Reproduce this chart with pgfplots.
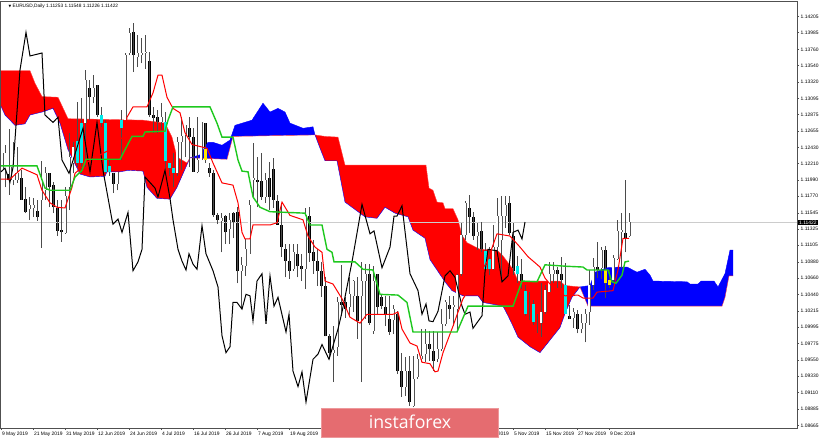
\documentclass[border=0pt]{standalone}
\usepackage{fontspec}
\setmainfont{Liberation Sans}
\newfontfamily\wmfont{Open Sans}
\newfontfamily\symfont{DejaVu Sans}
\usepackage{pgfplots}
\usepackage{pgfplotstable}
\pgfplotsset{compat=1.18}
\usepgfplotslibrary{fillbetween}
\pgfplotsset{layers/ichimoku/.define layer set={axis background,axis grid,under cloud,pre main,main,axis ticks,axis lines,axis tick labels,axis descriptions,axis foreground}{}}

\definecolor{wick}{RGB}{75,75,75}
\definecolor{bullline}{RGB}{85,85,85}
\definecolor{kijun}{RGB}{30,200,30}
\definecolor{barcyan}{RGB}{0,235,235}
\definecolor{baryellow}{RGB}{255,232,0}
\definecolor{frame}{RGB}{80,80,80}
\definecolor{wmark}{RGB}{229,108,112}

% candles: bar, high, low, body top, body bottom
\pgfplotstableread{
x hi lo top bot
1 1.1247 1.1189 1.1235 1.1212
3 1.1250 1.1192 1.1216 1.1199
4 1.1244 1.1195 1.1208 1.1199
7 1.1176 1.1145 1.1165 1.1159
8 1.1174 1.1149 1.1165 1.1161
10 1.1224 1.1107 1.1199 1.1172
11 1.1216 1.1172 1.1208 1.1185
16 1.1189 1.1126 1.1177 1.1127
17 1.1262 1.1158 1.1230 1.1189
18 1.1250 1.1208 1.1244 1.1222
21 1.1348 1.1216 1.1334 1.1276
23 1.1341 1.1303 1.1324 1.1311
29 1.1210 1.1185 1.1210 1.1193
31 1.1371 1.1280 1.1368 1.1280
32 1.1405 1.1368 1.1398 1.1371
34 1.1395 1.1352 1.1371 1.1365
35 1.1392 1.1357 1.1371 1.1368
36 1.1395 1.1350 1.1372 1.1371
40 1.1303 1.1267 1.1284 1.1277
44 1.1257 1.1205 1.1250 1.1208
45 1.1284 1.1212 1.1258 1.1250
46 1.1273 1.1230 1.1273 1.1260
49 1.1284 1.1208 1.1226 1.1210
50 1.1277 1.1226 1.1277 1.1226
55 1.1154 1.1101 1.1148 1.1144
57 1.1154 1.1112 1.1145 1.1133
60 1.1094 1.1024 1.1084 1.1075
61 1.1119 1.1069 1.1105 1.1082
62 1.1172 1.1099 1.1165 1.1099
63 1.1249 1.1176 1.1201 1.1199
66 1.1208 1.1168 1.1199 1.1176
73 1.1112 1.1076 1.1101 1.1078
76 1.1161 1.1051 1.1151 1.1078
83 1.1001 1.0925 1.0969 1.0965
84 1.1040 1.0961 1.1033 1.0973
87 1.1067 1.1013 1.1044 1.1027
88 1.1063 1.1020 1.1062 1.1042
90 1.1088 1.0925 1.1062 1.1042
91 1.1085 1.1011 1.1072 1.1062
93 1.1082 1.0990 1.1062 1.0994
98 1.1030 1.0990 1.1024 1.1009
101 1.0959 1.0906 1.0940 1.0919
103 1.0961 1.0891 1.0929 1.0893
104 1.0963 1.0929 1.0956 1.0932
105 1.0997 1.0952 1.0961 1.0956
106 1.0997 1.0952 1.0977 1.0963
109 1.0993 1.0952 1.0970 1.0956
110 1.1024 1.0967 1.1004 1.0970
111 1.1037 1.1001 1.1033 1.1004
113 1.1042 1.1001 1.1030 1.1027
114 1.1072 1.0993 1.1070 1.1024
115 1.1141 1.1069 1.1124 1.1072
116 1.1170 1.1118 1.1168 1.1124
119 1.1141 1.1104 1.1128 1.1123
123 1.1138 1.1077 1.1108 1.1078
124 1.1175 1.1097 1.1150 1.1108
125 1.1177 1.1062 1.1150 1.1118
126 1.1177 1.1134 1.1165 1.1150
135 1.1059 1.0986 1.1020 1.1005
136 1.1056 1.1018 1.1050 1.1020
137 1.1088 1.1047 1.1072 1.1047
138 1.1088 1.1059 1.1077 1.1072
143 1.1025 1.0999 1.1020 1.1012
145 1.1018 1.0991 1.1005 1.0997
146 1.1024 1.0979 1.1017 1.1005
147 1.1077 1.1003 1.1056 1.1020
148 1.1093 1.1050 1.1081 1.1056
150 1.1108 1.1065 1.1104 1.1080
153 1.1097 1.1061 1.1093 1.1063
154 1.1145 1.1091 1.1130 1.1092
155 1.1154 1.1080 1.1131 1.1128
157 1.1154 1.1122 1.1142 1.1123
}\bull

\pgfplotstableread{
x hi lo top bot
2 1.1268 1.1179 1.1207 1.1199
5 1.1212 1.1172 1.1201 1.1172
6 1.1189 1.1154 1.1173 1.1155
9 1.1172 1.1144 1.1157 1.1149
12 1.1208 1.1162 1.1208 1.1189
13 1.1196 1.1154 1.1192 1.1162
14 1.1172 1.1123 1.1161 1.1130
15 1.1172 1.1115 1.1131 1.1128
22 1.1334 1.1280 1.1323 1.1311
24 1.1327 1.1284 1.1327 1.1287
28 1.1208 1.1181 1.1208 1.1194
33 1.1412 1.1345 1.1399 1.1368
37 1.1372 1.1284 1.1360 1.1287
38 1.1298 1.1263 1.1287 1.1283
39 1.1294 1.1263 1.1284 1.1277
47 1.1284 1.1216 1.1269 1.1257
48 1.1269 1.1210 1.1257 1.1210
51 1.1276 1.1222 1.1276 1.1241
52 1.1222 1.1203 1.1215 1.1208
53 1.1212 1.1149 1.1208 1.1151
54 1.1154 1.1139 1.1151 1.1145
56 1.1151 1.1112 1.1150 1.1128
58 1.1155 1.1120 1.1154 1.1141
59 1.1162 1.1059 1.1155 1.1075
64 1.1230 1.1162 1.1199 1.1196
65 1.1236 1.1172 1.1197 1.1176
67 1.1224 1.1158 1.1201 1.1176
68 1.1229 1.1161 1.1214 1.1172
69 1.1178 1.1139 1.1170 1.1138
70 1.1165 1.1095 1.1138 1.1108
71 1.1112 1.1067 1.1105 1.1089
72 1.1112 1.1065 1.1089 1.1076
74 1.1112 1.1067 1.1099 1.1082
75 1.1099 1.1062 1.1082 1.1078
77 1.1162 1.1088 1.1150 1.1100
78 1.1118 1.1072 1.1101 1.1089
79 1.1105 1.1055 1.1089 1.1076
80 1.1088 1.1041 1.1076 1.1055
81 1.1068 1.0987 1.1055 1.0987
82 1.0990 1.0956 1.0987 1.0965
85 1.1084 1.1015 1.1034 1.1030
86 1.1040 1.1012 1.1033 1.1024
89 1.1068 1.0984 1.1042 1.1008
92 1.1085 1.1003 1.1072 1.1005
94 1.1072 1.1017 1.1072 1.1027
95 1.1044 1.1024 1.1040 1.1028
96 1.1042 1.1001 1.1027 1.1017
97 1.1042 1.0989 1.1011 1.0993
99 1.1021 1.0936 1.1017 1.0940
100 1.0965 1.0905 1.0940 1.0919
102 1.0961 1.0893 1.0940 1.0898
107 1.0994 1.0954 1.0977 1.0970
108 1.0994 1.0940 1.0967 1.0954
112 1.1042 1.1011 1.1030 1.1024
117 1.1178 1.1127 1.1161 1.1149
118 1.1155 1.1118 1.1149 1.1123
120 1.1142 1.1101 1.1130 1.1104
127 1.1177 1.1124 1.1168 1.1127
128 1.1141 1.1070 1.1123 1.1075
130 1.1092 1.1051 1.1072 1.1062
132 1.1047 1.1009 1.1037 1.1014
134 1.1017 1.0991 1.1008 1.1005
139 1.1081 1.1053 1.1077 1.1072
140 1.1095 1.1053 1.1072 1.1063
142 1.1030 1.1011 1.1014 1.1010
144 1.1023 1.0991 1.1018 1.0997
149 1.1115 1.1066 1.1081 1.1077
151 1.1110 1.1039 1.1104 1.1077
156 1.1199 1.1101 1.1127 1.1119
}\bear

% white candles that show cyan over the red cloud
\pgfplotstableread{
x hi lo top bot
19 1.1304 1.1216 1.1252 1.1222
20 1.1310 1.1208 1.1276 1.1222
25 1.1298 1.1271 1.1287 1.1276
26 1.1280 1.1208 1.1276 1.1210
27 1.1226 1.1205 1.1218 1.1210
30 1.1294 1.1226 1.1280 1.1269
41 1.1291 1.1212 1.1277 1.1224
42 1.1222 1.1205 1.1222 1.1215
43 1.1235 1.1189 1.1215 1.1208
121 1.1114 1.1078 1.1103 1.1078
122 1.1108 1.1070 1.1092 1.1078
129 1.1096 1.1059 1.1082 1.1072
131 1.1056 1.1014 1.1049 1.1017
133 1.1036 1.1003 1.1031 1.1007
141 1.1086 1.1018 1.1056 1.1018
}\cyanbars

% same over the blue cloud, yellow
\pgfplotstableread{
x hi lo top bot
51 1.1241 1.1226 1.1241 1.1226
151 1.1077 1.1059 1.1077 1.1059
152 1.1077 1.1053 1.1063 1.1056
}\yellowbars

\pgfplotstableread{
x y
0 1.1299
1 1.1287
3.5 1.1273
6 1.1275
7.25 1.1287
10.25 1.1291
13 1.1296
14.75 1.1276
16.75 1.1240
19.75 1.1207
22.25 1.1203
26 1.1204
26.5 1.1210
29.75 1.1210
31.75 1.1212
35.5 1.1211
36.5 1.1189
39 1.1174
42.25 1.1173
44 1.1189
47.25 1.1229
49.75 1.1233
51.75 1.1250
53 1.1250
55.25 1.1246
57.25 1.1253
58.5 1.1273
62.75 1.1280
65.5 1.1303
67.25 1.1291
69.25 1.1296
71 1.1291
72.25 1.1276
75.5 1.1269
78 1.1271
78.5 1.1260
79.75 1.1242
81 1.1225
84 1.1225
86 1.1169
89.75 1.1154
91 1.1149
94 1.1147
96 1.1162
98.5 1.1154
101.75 1.1149
103 1.1131
106 1.1120
107.25 1.1091
111 1.1061
112.75 1.1049
115.5 1.1042
119.25 1.1042
120.5 1.1033
125.5 1.1028
126.75 1.1015
128 1.1001
129.25 1.0986
132.25 1.0973
134.75 1.0965
137.25 1.0982
139.75 1.0999
141 1.1018
142.75 1.1040
144.75 1.1054
147.25 1.1056
148.5 1.1074
151.5 1.1080
154.75 1.1081
156.5 1.1081
159 1.1074
161 1.1078
162.25 1.1070
163 1.1062
171.5 1.1061
172.25 1.1058
174.25 1.1058
175 1.1062
178.25 1.1062
179.25 1.1054
181 1.1072
182.25 1.1104
183 1.1104
}\senkouA

\pgfplotstableread{
x y
0 1.1347
7.25 1.1347
8.5 1.1330
10.25 1.1312
14.25 1.1311
16.75 1.1282
35.5 1.1280
41 1.1276
42.75 1.1257
44 1.1230
46.5 1.1222
47.25 1.1229
56.5 1.1227
58 1.1258
78.5 1.1260
81 1.1258
84.25 1.1257
86 1.1219
106.25 1.1219
107 1.1188
108 1.1185
109 1.1169
110.5 1.1168
111 1.1160
113 1.1160
114.25 1.1145
115.25 1.1124
116.5 1.1114
119.75 1.1105
124 1.1104
125.5 1.1096
128 1.1078
129.25 1.1062
139.75 1.1062
141 1.1056
144.75 1.1054
146.75 1.1028
180.25 1.1028
181 1.1040
182 1.1069
183 1.1069
}\senkouB

\pgfplotstableread{
x y
0 1.1218
9 1.1218
11 1.1188
12.25 1.1185
17.25 1.1185
18.5 1.1203
20.25 1.1212
21.25 1.1227
29.75 1.1227
31 1.1240
32.75 1.1258
35.5 1.1258
36 1.1264
41 1.1265
41.75 1.1280
43 1.1298
52.25 1.1298
54 1.1276
55.25 1.1257
58 1.1257
59.25 1.1226
60.25 1.1211
61.75 1.1210
63 1.1176
64.75 1.1162
67.25 1.1156
76 1.1154
77.25 1.1138
80.25 1.1138
81.5 1.1105
82.75 1.1101
83.25 1.1088
88.5 1.1088
90.5 1.1078
93 1.1077
94.75 1.1044
99.25 1.1043
101.5 1.1033
103 1.0993
114 1.0993
116.75 1.1028
128 1.1028
130.25 1.1062
134 1.1061
136 1.1084
141.5 1.1082
145.5 1.1081
146.5 1.1077
151.75 1.1077
152.75 1.1061
153.75 1.1059
155.25 1.1070
156 1.1088
157 1.1089
}\kijunline

\pgfplotstableread{
x y
0 1.1200
2.25 1.1200
5.25 1.1215
9 1.1206
10.25 1.1185
12.25 1.1168
14 1.1162
16 1.1161
17.75 1.1189
18.5 1.1208
22.25 1.1226
27.25 1.1240
31 1.1260
31.5 1.1284
33 1.1298
36.5 1.1298
38 1.1317
39.25 1.1341
40.25 1.1341
41.5 1.1311
43 1.1296
44.75 1.1290
46 1.1263
47.75 1.1247
51.5 1.1242
53 1.1222
55.25 1.1195
58 1.1192
59.25 1.1168
60.25 1.1128
61 1.1119
62.25 1.1119
63 1.1138
67.25 1.1138
69 1.1141
70.25 1.1169
72.25 1.1151
75.5 1.1145
76.75 1.1123
78.5 1.1108
80.25 1.1101
81 1.1062
83 1.1058
85.25 1.1038
87.25 1.1013
89.75 1.1005
91.5 1.1017
98 1.1017
99.25 1.1020
100.25 1.0997
102.25 1.0978
104 1.0974
105.25 1.0952
107.25 1.0950
108.5 1.0939
109.25 1.0940
110.5 1.0965
113 1.1001
114.25 1.1020
115.5 1.1038
118.5 1.1063
121.5 1.1088
124 1.1126
127.25 1.1123
129.75 1.1108
131.75 1.1095
134.75 1.1081
136 1.1066
138.5 1.1050
141 1.1042
144.25 1.1043
145.5 1.1039
148 1.1039
149 1.1047
153 1.1049
154.25 1.1077
155.5 1.1120
157 1.1120
}\tenkan

\pgfplotstableread{
x y
0 1.1210
1 1.1215
2.25 1.1196
3 1.1216
4.75 1.1348
6.25 1.1399
7.25 1.1367
10.25 1.1371
11 1.1287
13 1.1277
14.25 1.1284
15.25 1.1226
17 1.1208
19.75 1.1256
20.5 1.1269
22.25 1.1210
24 1.1277
25.5 1.1212
27.75 1.1145
28 1.1139
29.25 1.1146
30.25 1.1128
31.75 1.1155
33 1.1076
34.25 1.1088
35.25 1.1105
36 1.1203
38.5 1.1188
39.25 1.1176
41 1.1212
42.25 1.1174
43 1.1145
44.25 1.1105
45.25 1.1089
46.25 1.1077
47 1.1099
48 1.1085
49 1.1078
50.25 1.1137
51.25 1.1099
53 1.1076
54.25 1.1054
55.25 1.0988
56.25 1.0965
57.25 1.0973
58 1.1033
59 1.1033
60.25 1.1024
61.25 1.1044
62.25 1.1042
63 1.1008
64 1.1062
65.25 1.1072
66.25 1.1004
67.25 1.1069
68.25 1.1028
69.25 1.1040
71.25 1.0993
72 1.1017
73 1.0940
74.25 1.0919
75.25 1.0939
76.25 1.0898
78 1.0956
79.25 1.0963
80.25 1.0976
82 1.0956
84.25 1.0997
85.25 1.1020
87.75 1.1088
90.25 1.1166
92.25 1.1126
93.25 1.1130
95.25 1.1080
97.25 1.1108
98.25 1.1150
99 1.1150
100.25 1.1164
102.25 1.1072
104.25 1.1049
105.25 1.1017
106.25 1.1031
107 1.1008
108 1.1007
109.25 1.1021
111 1.1069
112.25 1.1076
113.5 1.1067
115.25 1.1028
116 1.1017
117.25 1.1020
118 1.0998
120.25 1.1015
121 1.1074
121.75 1.1105
124 1.1103
125.25 1.1061
126.75 1.1069
128 1.1128
129.25 1.1131
130.25 1.1119
131 1.1142
}\chikou

\newcommand{\wicks}[1]{
  \addplot[draw=none,mark=none,forget plot,
    error bars/.cd,y dir=plus,y explicit,error mark=none,
    error bar style={line width=0.5pt,color=wick}]
    table[x=x,y=lo,y error plus expr=\thisrow{hi}-\thisrow{lo}] {#1};
}
\newcommand{\bodies}[3]{
  \addplot[draw=none,mark=none,forget plot,
    error bars/.cd,y dir=plus,y explicit,error mark=none,
    error bar style={line width=#3,color=#2}]
    table[x=x,y=bot,y error plus expr=\thisrow{top}-\thisrow{bot}] {#1};
}

\begin{document}
\begin{tikzpicture}
\begin{axis}[
  set layers=ichimoku,
  at={(0pt,0pt)},anchor=south west,
  scale only axis,
  width=597pt,height=319.875pt,
  xmin=0,xmax=199,
  ymin=1.08629,ymax=1.14408,
  axis line style={draw=frame,line width=0.75pt},
  tick style={draw=frame,line width=0.4pt},
  major tick length=1.6pt,
  tick align=outside,
  xtick pos=bottom,
  ytick pos=right,
  xtick={0,8,...,152},
  xticklabels={9 May 2019,21 May 2019,31 May 2019,12 Jun 2019,24 Jun 2019,4 Jul 2019,16 Jul 2019,26 Jul 2019,7 Aug 2019,19 Aug 2019,29 Aug 2019,10 Sep 2019,20 Sep 2019,2 Oct 2019,14 Oct 2019,24 Oct 2019,5 Nov 2019,15 Nov 2019,27 Nov 2019,9 Dec 2019},
  ytick={1.08665,1.08885,1.09110,1.09330,1.09550,1.09775,1.09995,1.10215,1.10440,1.10660,1.10880,1.11105,1.11325,1.11545,1.11770,1.11990,1.12210,1.12430,1.12655,1.12875,1.13095,1.13320,1.13540,1.13760,1.13985,1.14205},
  yticklabels={1.08665,1.08885,1.09110,1.09330,1.09550,1.09775,1.09995,1.10215,1.10440,1.10660,1.10880,1.11105,1.11325,1.11545,1.11770,1.11990,1.12210,1.12430,1.12655,1.12875,1.13095,1.13320,1.13540,1.13760,1.13985,1.14205},
  tick label style={font=\fontsize{3.7}{4}\selectfont,inner sep=0pt},
  xticklabel style={anchor=north west,yshift=-1.2pt,xshift=0.6pt},
  yticklabel style={anchor=west,xshift=1pt},
]
% black bodies go under the cloud: they vanish inside it on the original
\begin{pgfonlayer}{under cloud}
\addplot[draw=none,mark=none,forget plot,
  error bars/.cd,y dir=plus,y explicit,error mark=none,
  error bar style={line width=2.25pt,color=black}]
  table[x=x,y=bot,y error plus expr=\thisrow{top}-\thisrow{bot}] {\bear};
\end{pgfonlayer}
% cloud
\addplot[draw=blue,line width=0.3pt,name path=sa,forget plot] table[x=x,y=y] {\senkouA};
\addplot[draw=red!75!white,line width=0.3pt,name path=sb,forget plot] table[x=x,y=y] {\senkouB};
\addplot[fill=red,draw=none,forget plot] fill between[of=sa and sb,soft clip={domain=0:47.25}];
\addplot[fill=blue,draw=none,forget plot] fill between[of=sa and sb,soft clip={domain=47.25:78.5}];
\addplot[fill=red,draw=none,forget plot] fill between[of=sa and sb,soft clip={domain=78.5:144.75}];
\addplot[fill=blue,draw=none,forget plot] fill between[of=sa and sb,soft clip={domain=144.75:183}];
% current price
\addplot[draw=black!20,line width=0.5pt,forget plot] coordinates {(0,1.1142)(199,1.1142)};
% candles
\wicks{\bull}
\wicks{\bear}
\wicks{\cyanbars}
\wicks{\yellowbars}
\bodies{\bull}{bullline}{2.25pt}
\bodies{\bull}{white}{1pt}
\bodies{\cyanbars}{barcyan}{2.25pt}
\bodies{\yellowbars}{baryellow}{2.25pt}
% lines
\addplot[black,line width=0.75pt,forget plot] table[x=x,y=y] {\chikou};
\addplot[red,line width=0.75pt,forget plot] table[x=x,y=y] {\tenkan};
\addplot[kijun,line width=1.05pt,forget plot] table[x=x,y=y] {\kijunline};
\end{axis}
% header, price tag, watermark
\path (-0.75pt,-8.25pt) rectangle (614.25pt,321pt);
\node[anchor=west,inner sep=0pt,font=\fontsize{3.6}{4}\selectfont] at (5.6pt,316.2pt) {{\symfont\fontsize{2.6}{3}\selectfont ▼}\hspace{0.9pt}EURUSD,Daily 1.11253 1.11548 1.11226 1.11422};
\node[anchor=west,fill=black,text=white,inner xsep=1pt,inner ysep=0.3pt,font=\fontsize{3.7}{4}\selectfont] at (597.4pt,154.1pt) {1.11422};
\fill[wmark,draw=wmark!70!white,line width=0.4pt] (240.4pt,-6.75pt) rectangle (373.1pt,15pt);
\node[text=white,inner sep=0pt,font=\wmfont\fontsize{13.3}{14}\selectfont] at (306.75pt,4.4pt) {instaforex};
\end{tikzpicture}
\end{document}
